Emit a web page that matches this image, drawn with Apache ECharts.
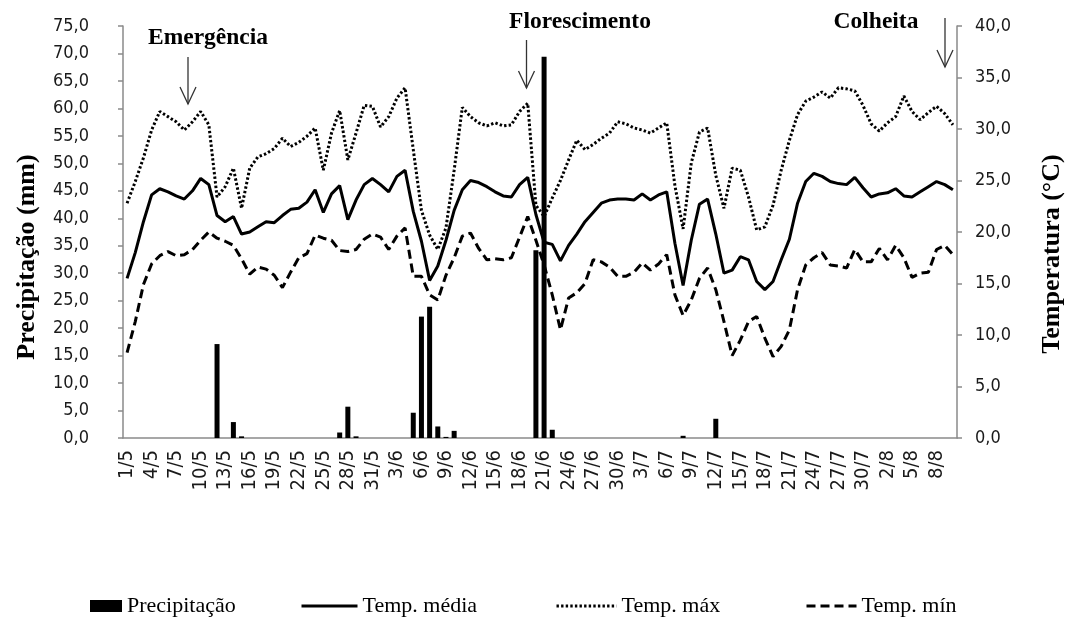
<!DOCTYPE html>
<html>
<head>
<meta charset="utf-8">
<script src="https://cdn.jsdelivr.net/npm/echarts@6/dist/echarts.min.js"></script>
<style>
html,body{margin:0;padding:0;background:#fff;}
#chart{width:1073px;height:619px;}
</style>
</head>
<body>
<div id="chart"></div>
<script>
// ---- Categories (day/month), 1/5 .. 10/8 ----
var daysMay = ['1/5','2/5','3/5','4/5','5/5','6/5','7/5','8/5','9/5','10/5','11/5','12/5','13/5','14/5','15/5','16/5','17/5','18/5','19/5','20/5','21/5','22/5','23/5','24/5','25/5','26/5','27/5','28/5','29/5','30/5','31/5'];
var daysJun = ['1/6','2/6','3/6','4/6','5/6','6/6','7/6','8/6','9/6','10/6','11/6','12/6','13/6','14/6','15/6','16/6','17/6','18/6','19/6','20/6','21/6','22/6','23/6','24/6','25/6','26/6','27/6','28/6','29/6','30/6'];
var daysJul = ['1/7','2/7','3/7','4/7','5/7','6/7','7/7','8/7','9/7','10/7','11/7','12/7','13/7','14/7','15/7','16/7','17/7','18/7','19/7','20/7','21/7','22/7','23/7','24/7','25/7','26/7','27/7','28/7','29/7','30/7','31/7'];
var daysAug = ['1/8','2/8','3/8','4/8','5/8','6/8','7/8','8/8','9/8','10/8'];
var categories = daysMay.concat(daysJun, daysJul, daysAug);

// ---- Precipitação (mm), left axis ----
var precipitacao = [
 0,0,0,0,0,0,0,0,0,0, 0,17.1,0,2.9,0.3,0,0,0,0,0, 0,0,0,0,0,0,1.0,5.7,0.3,0, 0,
 0,0,0,0,4.6,22.1,23.9,2.1,0.2,1.3, 0,0,0,0,0,0,0,0,0,34.2, 69.4,1.5,0,0,0,0,0,0,0,0,
 0,0,0,0,0,0,0,0.4,0,0, 0,3.5,0,0,0,0,0,0,0,0, 0,0,0,0,0,0,0,0,0,0, 0,
 0,0,0,0,0,0,0,0,0,0
];

// ---- Temperaturas (°C), right axis ----
var tempMedia = [
 15.5,18.0,21.0,23.6,24.2,23.9,23.5,23.2,24.0,25.2, 24.6,21.6,21.0,21.5,19.8,20.0,20.5,21.0,20.9,21.6,
 22.2,22.3,22.9,24.1,21.9,23.7,24.5,21.2,23.1,24.6, 25.2,24.6,23.9,25.4,26.0,22.0,19.1,15.3,16.7,19.2,
 22.1,24.1,25.0,24.8,24.4,23.9,23.5,23.4,24.6,25.3, 21.7,19.0,18.8,17.2,18.7,19.8,21.0,21.9,22.8,23.1,
 23.2,23.2,23.1,23.7,23.1,23.6,23.9,18.9,14.8,19.2, 22.7,23.2,19.8,16.0,16.3,17.6,17.3,15.2,14.4,15.2,
 17.3,19.3,22.8,24.9,25.7,25.4,24.9,24.7,24.6,25.3, 24.3,23.4,23.7,23.8,24.2,23.5,23.4,23.9,24.4,24.9,
 24.6,24.1
];
var tempMax = [
 22.8,24.9,27.2,29.9,31.7,31.2,30.7,29.9,30.7,31.7, 30.4,23.4,24.4,26.2,22.3,26.2,27.3,27.6,28.1,29.1,
 28.3,28.7,29.3,30.1,26.0,29.6,31.8,27.0,29.6,32.3, 32.2,30.2,31.2,33.0,34.0,28.0,22.1,19.7,18.3,20.4,
 26.0,32.1,31.2,30.6,30.3,30.6,30.3,30.4,31.7,32.5, 22.6,21.5,23.3,25.0,27.0,28.9,28.0,28.5,29.1,29.6,
 30.7,30.5,30.1,29.9,29.6,30.1,30.6,24.5,20.3,26.7, 29.7,30.1,25.5,22.3,26.2,26.0,23.4,20.2,20.5,22.6,
 26.0,28.9,31.4,32.7,33.1,33.6,33.0,34.0,33.9,33.7, 32.3,30.5,29.8,30.6,31.2,33.2,31.7,30.9,31.6,32.2,
 31.5,30.4
];
var tempMin = [
 8.3,11.3,14.9,16.9,17.7,18.1,17.7,17.8,18.3,19.2, 20.0,19.4,19.1,18.7,17.4,15.9,16.6,16.4,15.8,14.6,
 16.1,17.5,17.9,19.7,19.4,19.2,18.2,18.1,18.3,19.3, 19.8,19.5,18.3,19.6,20.4,15.7,15.7,13.9,13.4,15.8,
 17.5,19.6,19.9,18.4,17.3,17.4,17.3,17.5,19.5,21.5, 19.2,16.8,13.9,10.5,13.6,14.1,15.0,17.3,17.1,16.6,
 15.7,15.7,16.1,17.0,16.3,16.9,17.8,13.9,11.9,13.4, 15.5,16.5,14.4,11.3,8.0,9.5,11.3,11.8,9.7,7.9,
 8.9,10.5,14.4,16.8,17.5,18.0,16.8,16.7,16.5,18.3, 17.1,17.1,18.4,17.3,18.7,17.5,15.6,16.0,16.1,18.3,
 18.7,17.8
];

// ---- Axis settings ----
var precipAxis = {min: 0, max: 75, interval: 5};
var tempAxis = {min: 0, max: 40, interval: 5};
var seriesNames = ['Precipitação', 'Temp. média', 'Temp. máx', 'Temp. mín'];
var annotations = [
  {text: 'Emergência', tx: 208, ty: 38, ax: 188, ay1: 57, ay2: 104},
  {text: 'Florescimento', tx: 580, ty: 22, ax: 526.5, ay1: 40, ay2: 88},
  {text: 'Colheita', tx: 876, ty: 22, ax: 945, ay1: 18, ay2: 67}
];

var tickFont = "'DejaVu Sans Condensed', 'Liberation Sans', sans-serif";
var serif = "'Liberation Serif', 'DejaVu Serif', serif";
var axisGray = '#8a8a8a';
function fmt(v){ return v.toFixed(1).replace('.', ','); }

var graphics = [
  {type:'text', x:27, y:257, rotation:Math.PI/2,
   style:{text:'Precipitação (mm)', font:'bold 26px ' + serif, fill:'#000', textAlign:'center', textVerticalAlign:'middle'}},
  {type:'text', x:1052, y:254, rotation:Math.PI/2,
   style:{text:'Temperatura (°C)', font:'bold 26px ' + serif, fill:'#000', textAlign:'center', textVerticalAlign:'middle'}}
];
annotations.forEach(function(a){
  graphics.push({type:'text', x:a.tx, y:a.ty,
    style:{text:a.text, font:'bold 23.5px ' + serif, fill:'#000', textAlign:'center', textVerticalAlign:'middle'}});
  graphics.push({type:'line', shape:{x1:a.ax, y1:a.ay1, x2:a.ax, y2:a.ay2},
    style:{stroke:'#333', lineWidth:1.3}});
  graphics.push({type:'polyline', shape:{points:[[a.ax-8, a.ay2-17],[a.ax, a.ay2],[a.ax+8, a.ay2-17]]},
    style:{stroke:'#333', lineWidth:1.3, fill:null}});
});

function legendAt(name, left, w, h, isLine){
  var lg = {data:[isLine ? name : {name:name, icon:'rect'}], left:left - 5, top:590, itemWidth:w, itemHeight:h, itemGap:0,
          textStyle:{fontFamily:serif, fontSize:22, color:'#000'}, selectedMode:false};
  if (isLine) { lg.itemStyle = {opacity:0}; lg.lineStyle = {width:3}; }
  return lg;
}

var chart = echarts.init(document.getElementById('chart'), null, {renderer:'canvas'});
chart.setOption({
  animation:false,
  backgroundColor:'#fff',
  grid:{left:123, right:116, top:26, bottom:181, containLabel:false},
  legend:[
    legendAt(seriesNames[0], 90, 32, 12, false),
    legendAt(seriesNames[1], 300, 56, 12, true),
    legendAt(seriesNames[2], 555, 60, 12, true),
    legendAt(seriesNames[3], 805, 50, 12, true)
  ],
  xAxis:{
    type:'category', data:categories, boundaryGap:true,
    axisLine:{lineStyle:{color:axisGray, width:1.5}},
    axisTick:{interval:2, length:6, lineStyle:{color:axisGray, width:1.5}},
    axisLabel:{interval:2, rotate:90, margin:12, fontFamily:tickFont, fontSize:20, color:'#1a1a1a'},
    splitLine:{show:false}
  },
  yAxis:[
    {type:'value', position:'left', min:precipAxis.min, max:precipAxis.max, interval:precipAxis.interval,
     axisLine:{show:true, lineStyle:{color:axisGray, width:1.5}},
     axisTick:{show:true, length:5, lineStyle:{color:axisGray, width:1.5}},
     axisLabel:{formatter:fmt, fontFamily:tickFont, fontSize:18, color:'#1a1a1a', margin:34},
     splitLine:{show:false}},
    {type:'value', position:'right', min:tempAxis.min, max:tempAxis.max, interval:tempAxis.interval,
     axisLine:{show:true, lineStyle:{color:axisGray, width:1.5}},
     axisTick:{show:true, length:5, lineStyle:{color:axisGray, width:1.5}},
     axisLabel:{formatter:fmt, fontFamily:tickFont, fontSize:18, color:'#1a1a1a', margin:18},
     splitLine:{show:false}}
  ],
  series:[
    {name:seriesNames[0], type:'bar', yAxisIndex:0, data:precipitacao, barWidth:5,
     itemStyle:{color:'#000'}, z:3},
    {name:seriesNames[1], type:'line', yAxisIndex:1, data:tempMedia, symbol:'none',
     lineStyle:{color:'#000', width:3, type:'solid'}, itemStyle:{color:'#000'}, z:2},
    {name:seriesNames[2], type:'line', yAxisIndex:1, data:tempMax, symbol:'none',
     lineStyle:{color:'#000', width:3, type:[2.4, 2.2]}, itemStyle:{color:'#000'}, z:2},
    {name:seriesNames[3], type:'line', yAxisIndex:1, data:tempMin, symbol:'none',
     lineStyle:{color:'#000', width:3, type:[9, 5]}, itemStyle:{color:'#000'}, z:2}
  ],
  graphic:graphics
});
</script>
</body>
</html>
